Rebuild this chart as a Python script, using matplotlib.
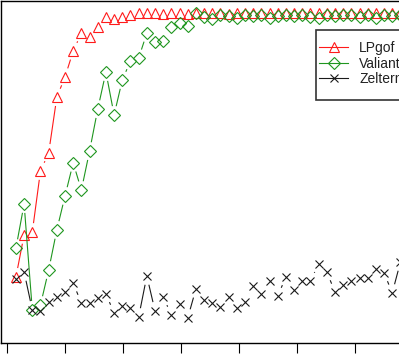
import numpy as np
import matplotlib.pyplot as plt
from matplotlib.collections import LineCollection
from matplotlib.patches import Rectangle
from matplotlib.lines import Line2D

plt.rcParams['font.family'] = ['Liberation Sans', 'DejaVu Sans']

# point index along the x axis
k = np.arange(1, 49)

lpgof = [0.146, 0.282, 0.291, 0.489, 0.547, 0.728, 0.793, 0.877, 0.935, 0.922,
         0.955, 0.987, 0.981, 0.987, 0.994, 1.000, 1.000, 1.000, 0.997, 1.000,
         1.000, 0.997, 1.000, 1.000, 1.000, 1.000, 0.997, 1.000, 1.000, 1.000,
         1.000, 1.000, 1.000, 1.000, 1.000, 1.000, 1.000, 1.000, 1.000, 1.000,
         1.000, 1.000, 1.000, 1.000, 1.000, 1.000, 1.000, 1.000]
valiant = [0.239, 0.382, 0.039, 0.055, 0.168, 0.298, 0.408, 0.515, 0.427, 0.553,
           0.689, 0.809, 0.670, 0.783, 0.845, 0.854, 0.935, 0.906, 0.909, 0.955,
           0.968, 0.958, 1.000, 0.987, 0.980, 0.994, 0.990, 0.984, 0.994, 0.990,
           0.994, 0.984, 0.990, 0.994, 0.990, 0.994, 0.987, 0.984, 0.994, 0.990,
           0.994, 0.994, 0.987, 0.994, 0.984, 0.994, 0.990, 0.994]
zelterman = [0.139, 0.162, 0.039, 0.036, 0.065, 0.081, 0.097, 0.126, 0.061, 0.061,
             0.078, 0.091, 0.029, 0.052, 0.045, 0.016, 0.149, 0.036, 0.081, 0.023,
             0.058, 0.013, 0.107, 0.071, 0.061, 0.049, 0.081, 0.045, 0.065, 0.117,
             0.091, 0.133, 0.084, 0.146, 0.104, 0.133, 0.133, 0.188, 0.162, 0.097,
             0.120, 0.133, 0.142, 0.142, 0.172, 0.159, 0.094, 0.194]

labels = ['LPgof', 'Valiant', 'Zelterman']
series = [lpgof, valiant, zelterman]
colors = ['#ff1a1a', '#1f961f', '#1a1a1a']
markers = ['^', 'D', 'x']
msizes = [7.5, 6.0, 6.0]

W, H = 399, 363
fig = plt.figure(figsize=(W / 100, H / 100), dpi=100)
# plot region runs past the right edge (the picture is a crop)
ax = fig.add_axes([1 / W, 20 / H, 470 / W, 342.5 / H])
ax.set_xlim(-0.8255, 56.37)
ax.set_ylim(-0.068, 1.0405)

xt = -0.055 + 7.085 * np.arange(9)
ax.set_xticks(xt)
ax.set_yticks([])
ax.tick_params(axis='x', direction='out', length=7.2, width=0.8, color='black',
               labelbottom=False)
for s in ['left', 'top', 'bottom']:
    ax.spines[s].set_linewidth(1.0)
    ax.spines[s].set_color('black')
ax.spines['right'].set_visible(False)


def gapped_segments(xs, ys, gap=9.0):
    # R type="b": lines stop short of each point
    pts = ax.transData.transform(np.column_stack([xs, ys]))
    segs = []
    for p0, p1 in zip(pts[:-1], pts[1:]):
        d = p1 - p0
        L = np.hypot(*d)
        if L <= 2 * gap:
            continue
        u = d / L
        a = ax.transData.inverted().transform(p0 + u * gap)
        b = ax.transData.inverted().transform(p1 - u * gap)
        segs.append([a, b])
    return segs


for vals, c, m, ms in zip(series, colors, markers, msizes):
    lc = LineCollection(gapped_segments(k, vals), colors=c, linewidths=0.8)
    ax.add_collection(lc)
    ax.plot(k, vals, linestyle='none', marker=m, ms=ms, mfc='none', mec=c,
            mew=0.8, clip_on=True)

# legend box (also cut by the right edge)
fig.patches.append(Rectangle((316 / W, 1 - 100 / H), 150 / W, 70.5 / H,
                             transform=fig.transFigure, facecolor='white',
                             edgecolor='#333333', linewidth=1.2, zorder=3))
handles = [Line2D([], [], color=c, marker=m, ms=ms, mfc='none', mec=c, lw=0.8, mew=0.8)
           for c, m, ms in zip(colors, markers, msizes)]
fig.legend(handles, labels, loc='upper left', bbox_to_anchor=(319 / W, 1 - 41 / H),
           frameon=False, borderpad=0, borderaxespad=0, handlelength=2.09,
           handletextpad=0.79, labelspacing=0.12, fontsize=10, labelcolor='#222222')

fig.savefig('out.png', dpi=100)
